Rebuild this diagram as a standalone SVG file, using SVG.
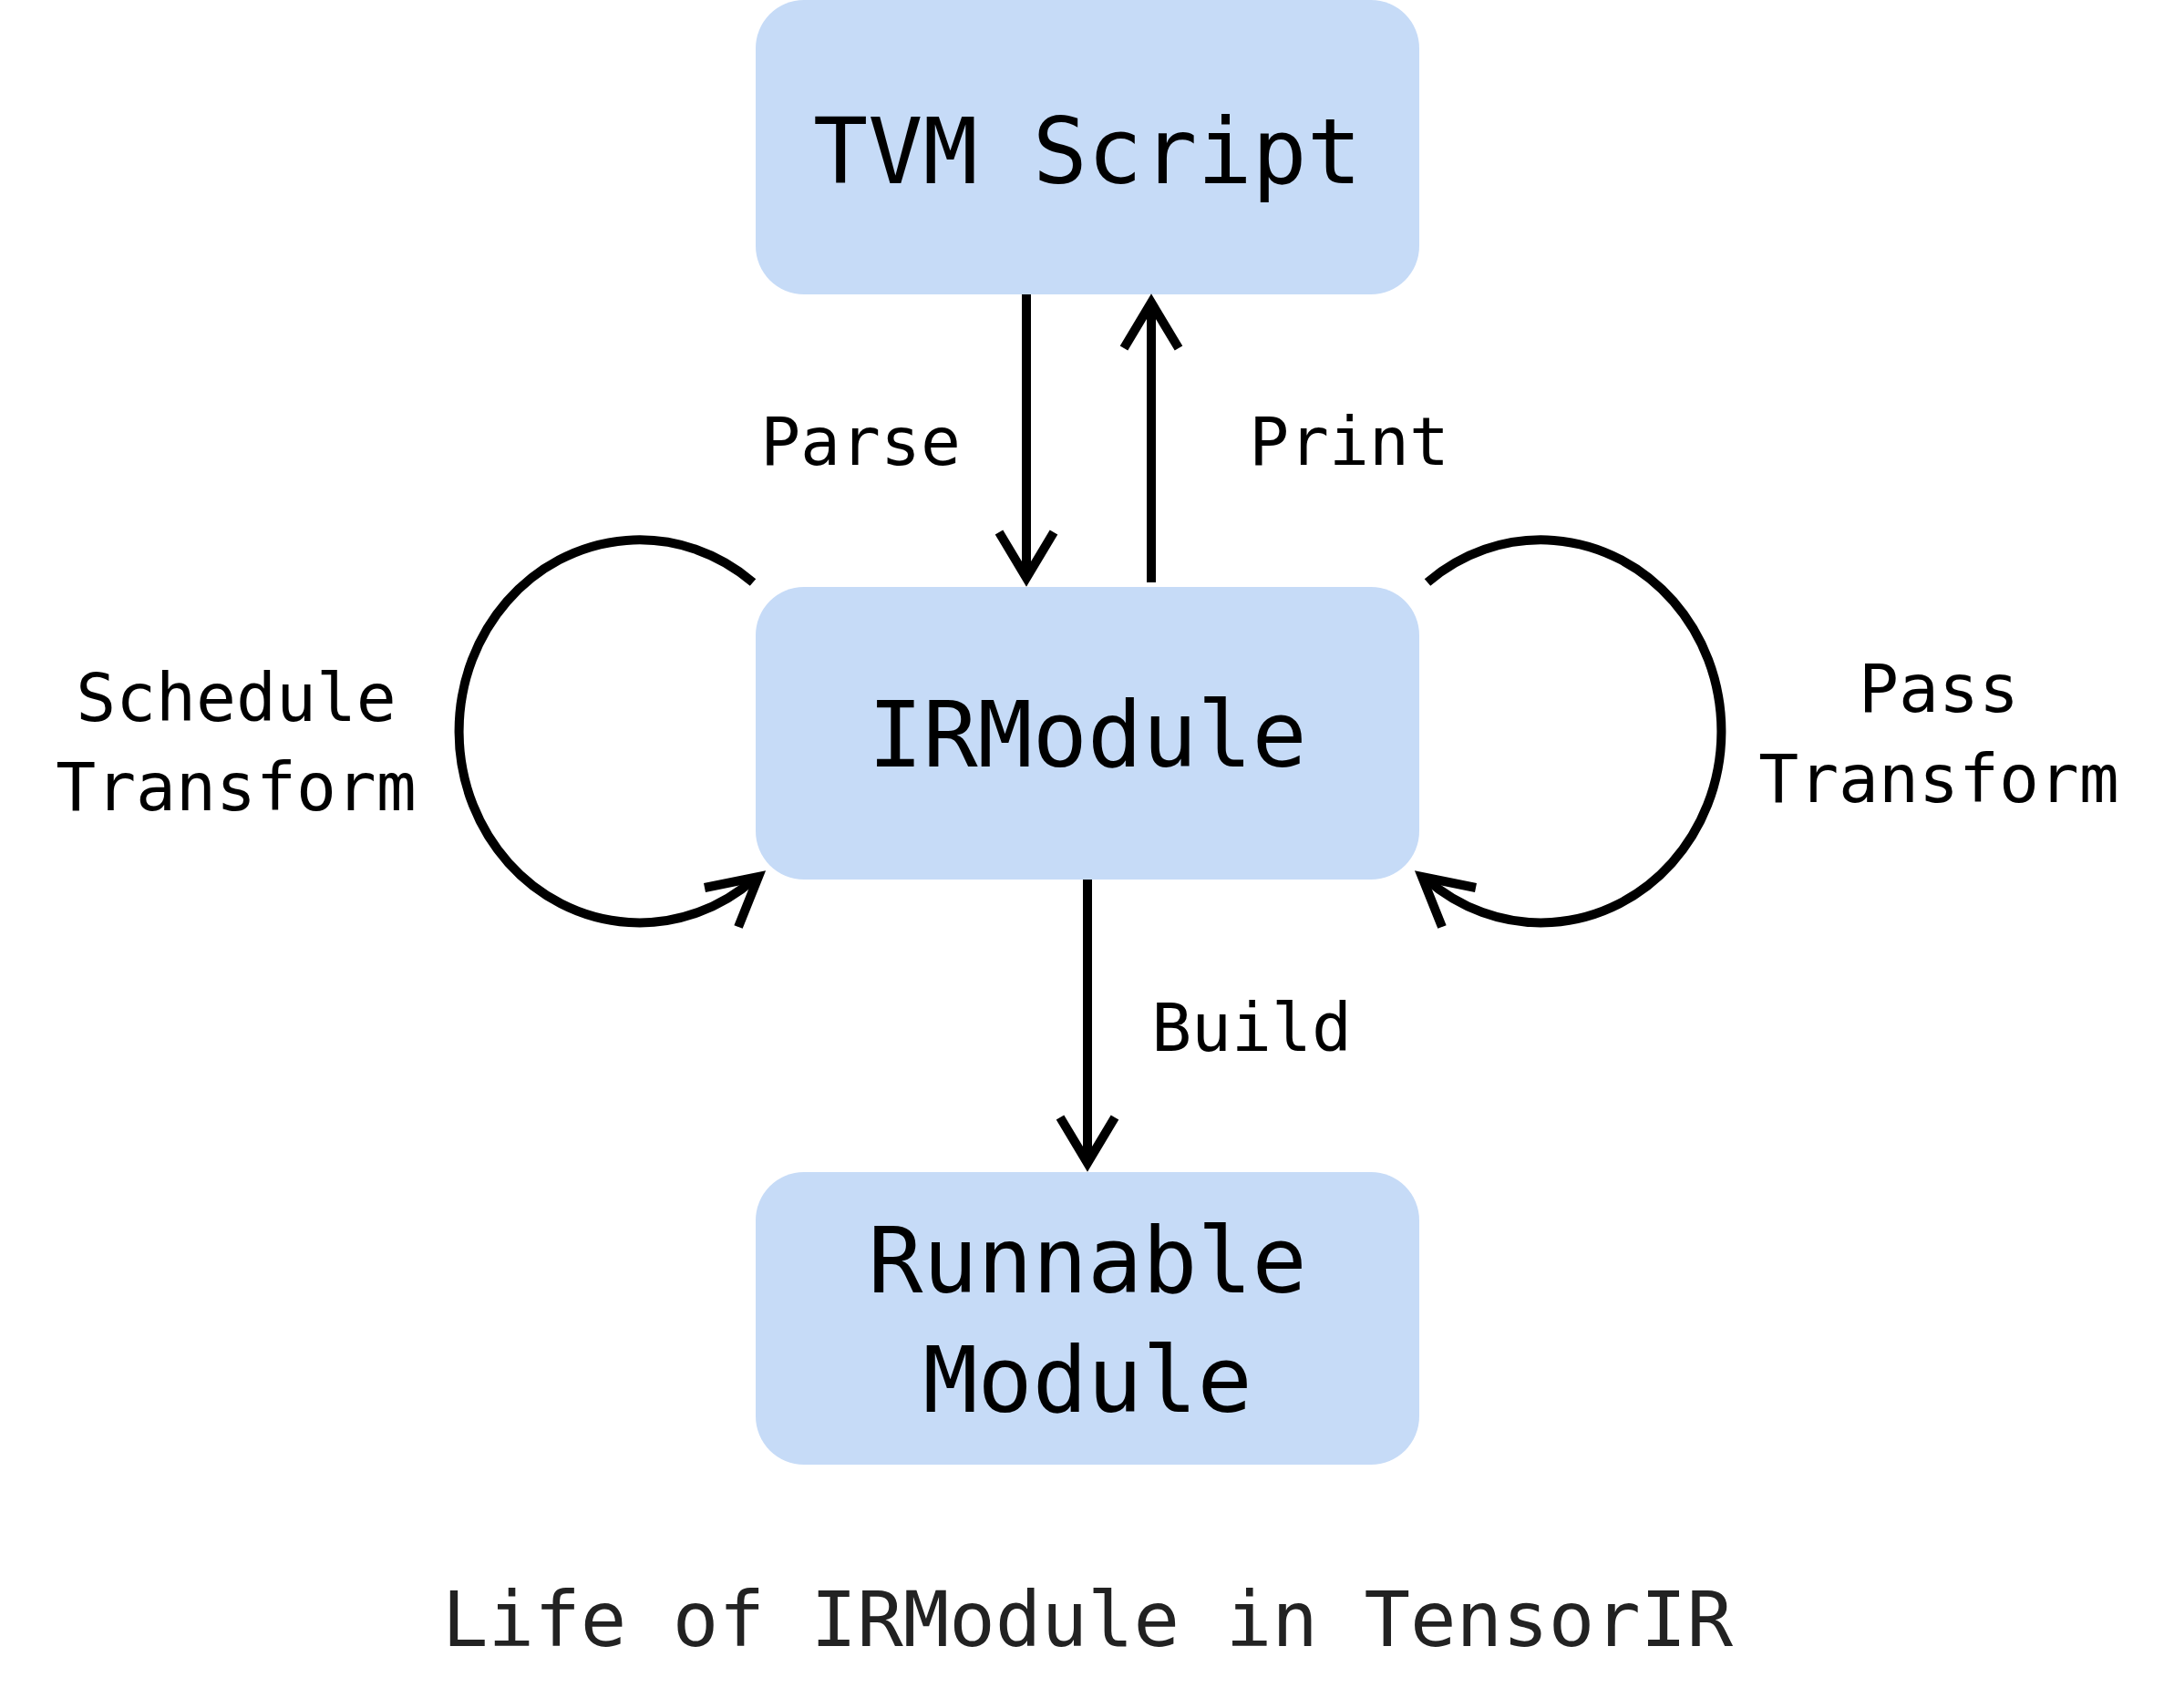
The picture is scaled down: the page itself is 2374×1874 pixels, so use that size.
<svg xmlns="http://www.w3.org/2000/svg" width="2374" height="1874" viewBox="0 0 2374 1874">
<style>
.box{fill:#c6dbf7}
.t{font-family:"DejaVu Sans Mono",monospace;fill:#000;text-anchor:middle}
.big{font-size:100px}
.lab{font-size:73px}
.ln{fill:none;stroke:#000;stroke-width:10}
.ah{fill:none;stroke:#000;stroke-width:10;stroke-linecap:butt}
</style>
<rect width="2374" height="1874" fill="#fff"/>
<g id="tvm"><rect class="box" x="829" y="0" width="728" height="323" rx="53"/><text class="t big" x="1193" y="201">TVM Script</text></g>
<g id="ir"><rect class="box" x="829" y="644" width="728" height="321" rx="53"/><text class="t big" x="1193" y="841">IRModule</text></g>
<g id="run"><rect class="box" x="829" y="1286" width="728" height="321" rx="53"/><text class="t big" x="1193" y="1418">Runnable</text><text class="t big" x="1193" y="1549">Module</text></g>
<g id="connectors">
<line class="ln" x1="1126" y1="323" x2="1126" y2="634"/><polyline class="ah" points="1096,584 1126,634 1156,584"/>
<line class="ln" x1="1263" y1="639" x2="1263" y2="332"/><polyline class="ah" points="1233,382 1263,332 1293,382"/>
<line class="ln" x1="1193" y1="965" x2="1193" y2="1276"/><polyline class="ah" points="1163,1226 1193,1276 1223,1226"/>
<path class="ln" d="M826,639 A198,210 0 1 0 828,964"/><polyline class="ah" points="773,974 832,962 810,1017"/>
<path class="ln" d="M1566,639 A198,210 0 1 1 1564,964"/><polyline class="ah" points="1619,974 1560,962 1582,1017"/>
</g>
<g id="labels">
<text class="t lab" x="944" y="510">Parse</text>
<text class="t lab" x="1480" y="510">Print</text>
<text class="t lab" x="1373" y="1153">Build</text>
<text class="t lab" x="259" y="791">Schedule</text><text class="t lab" x="259" y="889">Transform</text>
<text class="t lab" x="2127" y="781">Pass</text><text class="t lab" x="2127" y="880">Transform</text>
<text class="t" style="font-size:84px;fill:#222" x="1193" y="1806">Life of IRModule in TensorIR</text>
</g>
</svg>
